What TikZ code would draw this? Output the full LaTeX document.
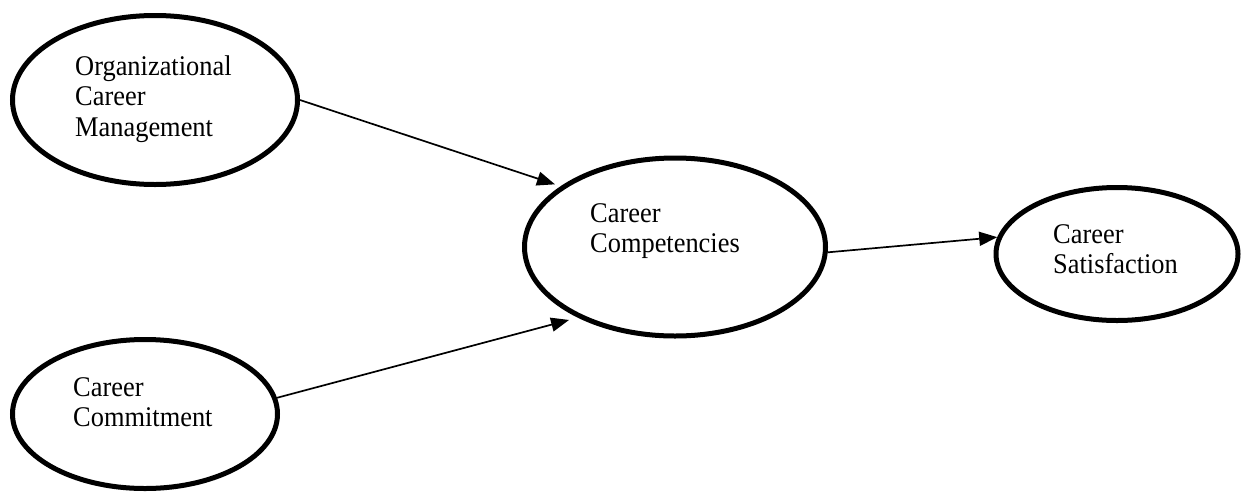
\documentclass[tikz,border=0pt]{standalone}
\usepackage{fontspec}
\setmainfont{Liberation Serif}
\usetikzlibrary{shapes.geometric,arrows.meta}
\newcommand{\mylines}[1]{\vtop{\fontsize{26.4pt}{28.3pt}\selectfont\baselineskip=28.3pt\halign{##\hfil\cr#1\crcr}}}
\tikzset{
  construct/.style={ellipse, draw, line width=5pt, inner sep=0pt},
  lbl/.style={anchor=base west, inner sep=0pt, yscale=1.08},
  link/.style={line width=1.7pt, -{Triangle[length=18pt,width=14pt]}}
}
\begin{document}
\begin{tikzpicture}[x=1pt,y=-1pt]
\useasboundingbox (0,0) rectangle (1244,493);
\node[construct, minimum width=285pt, minimum height=169pt] (ocm) at (155,100) {};
\node[construct, minimum width=265pt, minimum height=149pt] (cc) at (145,414) {};
\node[construct, minimum width=301pt, minimum height=178pt] (comp) at (675,247) {};
\node[construct, minimum width=242pt, minimum height=133pt] (sat) at (1117,254) {};
\node[lbl] (tocm) at (75,75) {\mylines{Organizational\cr Career\cr Management}};
\node[lbl] (tcc) at (73,396) {\mylines{Career\cr Commitment}};
\node[lbl] (tcomp) at (590,222) {\mylines{Career\cr Competencies}};
\node[lbl] (tsat) at (1053,243) {\mylines{Career\cr Satisfaction}};
\draw[link, shorten >=6pt] (ocm.east) -- (comp.152);
\draw[link, shorten >=9pt] (cc.7) -- (comp.216.5);
\draw[link] (comp.-2) -- (sat.172.5);
\end{tikzpicture}
\end{document}
